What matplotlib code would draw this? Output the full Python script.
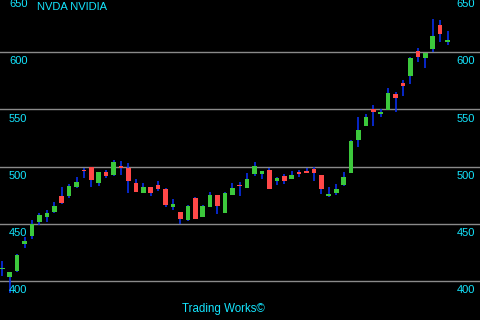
import matplotlib
matplotlib.use("Agg")
import matplotlib.pyplot as plt
import matplotlib.transforms as mtransforms

# OHLC data
opens = [410.5, 403.8, 408.9, 432.6, 439.5, 451.7, 456.1, 460.5, 474.4, 474.4,
         482.3, 497.0, 499.7, 485.8, 495.4, 492.7, 501.0, 498.9, 485.8, 477.4,
         482.3, 484.0, 480.5, 464.8, 460.5, 453.5, 472.7, 456.1, 464.8, 475.3,
         459.6, 475.3, 484.0, 481.4, 493.6, 493.6, 497.1, 487.5, 491.9, 489.3,
         495.4, 496.2, 497.9, 492.7, 474.4, 477.0, 484.0, 494.5, 523.2, 535.4,
         550.2, 545.9, 549.3, 563.2, 572.8, 578.9, 600.9, 594.6, 602.6, 623.6,
         608.8]
closes = [411.9, 408.1, 422.9, 435.2, 450.0, 457.9, 459.6, 465.7, 468.3, 483.1,
          486.6, 496.2, 488.4, 495.4, 491.9, 504.1, 499.1, 487.1, 477.9, 482.3,
          477.4, 480.5, 466.6, 467.5, 454.4, 465.7, 454.4, 465.7, 475.3, 465.7,
          477.0, 481.4, 483.1, 489.3, 500.6, 496.2, 480.5, 490.1, 487.5, 492.7,
          493.6, 494.5, 494.5, 480.5, 476.2, 480.5, 491.0, 522.3, 532.0, 543.3,
          547.6, 547.6, 564.1, 559.8, 570.2, 594.6, 595.6, 599.1, 614.0, 615.7,
          610.6]
highs = [417.7, 408.5, 423.8, 438.7, 453.4, 459.6, 462.2, 469.2, 482.3, 484.9,
         491.0, 498.8, 499.7, 495.4, 497.1, 505.8, 504.9, 503.2, 489.3, 485.8,
         482.3, 487.5, 481.0, 471.8, 460.5, 466.6, 473.5, 466.6, 477.9, 475.3,
         477.5, 485.8, 486.6, 494.5, 504.1, 496.2, 498.8, 491.0, 493.6, 496.2,
         497.1, 498.8, 499.7, 492.7, 482.3, 484.9, 495.4, 523.2, 543.3, 545.9,
         553.7, 550.2, 568.5, 565.0, 575.4, 595.6, 603.5, 599.1, 628.8, 627.9,
         618.3]
lows = [404.9, 390.0, 408.0, 429.1, 436.9, 449.1, 451.7, 459.6, 467.5, 472.7,
        481.4, 490.1, 482.3, 483.1, 490.1, 491.9, 493.0, 477.4, 477.9, 477.4,
        474.7, 478.8, 464.8, 462.2, 450.0, 452.6, 454.4, 456.1, 464.8, 458.7,
        459.6, 475.3, 474.4, 481.4, 491.9, 489.3, 480.5, 484.0, 484.9, 489.3,
        491.0, 494.5, 487.5, 476.2, 473.6, 475.3, 483.1, 494.5, 517.1, 535.4,
        535.4, 543.3, 549.3, 547.6, 561.5, 572.0, 591.3, 586.1, 600.0, 608.8,
        606.1]
price_levels = [400, 450, 500, 550, 600, 650]
title_text = "NVDA NVIDIA"
footer_text = "Trading Works\u00a9"

BG = "black"
UP = "#3cc83c"
DOWN = "#ff4848"
WICK = "#0a32ff"
GRID = "#8a8a8a"
TXT = "#14e6ff"
FONT = "Liberation Sans"

fig = plt.figure(figsize=(4.8, 3.2), dpi=100, facecolor=BG)
ax = fig.add_axes([0, 0, 1, 1], facecolor=BG)
ax.set_xlim(-0.31, 64.38)
ax.set_ylim(366.2, 645.5)
ax.axis("off")

for lvl in price_levels:
    ax.axhline(lvl, color=GRID, lw=1.0, zorder=1)

xs = list(range(len(opens)))
for x, o, c, h, l in zip(xs, opens, closes, highs, lows):
    ax.vlines(x, l, h, color=WICK, lw=1.1, zorder=2)
    col = UP if c >= o else DOWN
    bottom = min(o, c)
    height = max(abs(c - o), 0.8)
    ax.bar(x, height, bottom=bottom, width=0.62, color=col, lw=0, zorder=3)

off = mtransforms.offset_copy(ax.transData, fig=fig, x=0, y=-3, units="points")
left_tr = mtransforms.blended_transform_factory(ax.transAxes, off)
for lvl in price_levels:
    ax.text(9 / 480, lvl, str(lvl), transform=left_tr, ha="left", va="top",
            color=TXT, fontsize=8, family=FONT, zorder=4)
    ax.text(475 / 480, lvl, str(lvl), transform=left_tr, ha="right", va="top",
            color=TXT, fontsize=8, family=FONT, zorder=4)

fig.text(37 / 480, 1 - 2 / 320, title_text, ha="left", va="top",
         color=TXT, fontsize=8, family=FONT)
fig.text(223 / 480, 1 - 303 / 320, footer_text, ha="center", va="top",
         color=TXT, fontsize=8.3, family=FONT)

fig.savefig("out.png", dpi=100, facecolor=BG)
